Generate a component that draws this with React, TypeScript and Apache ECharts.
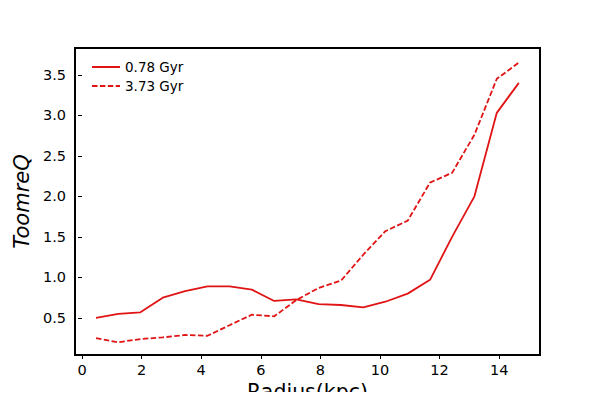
import React, { useEffect, useRef } from "react";
import * as echarts from "echarts";

const radius = [0.47, 1.22, 1.96, 2.71, 3.46, 4.21, 4.95, 5.7, 6.45, 7.19, 7.94, 8.69, 9.44, 10.18, 10.93, 11.68, 12.42, 13.17, 13.92, 14.66];
const q078 = [0.5, 0.55, 0.57, 0.75, 0.83, 0.89, 0.89, 0.85, 0.71, 0.73, 0.67, 0.66, 0.63, 0.7, 0.8, 0.97, 1.5, 2.0, 3.03, 3.4];
const q373 = [0.25, 0.2, 0.24, 0.26, 0.29, 0.28, 0.41, 0.54, 0.52, 0.72, 0.87, 0.96, 1.28, 1.57, 1.7, 2.17, 2.29, 2.76, 3.45, 3.65];
const xTicks = [0, 2, 4, 6, 8, 10, 12, 14];
const yTicks = [0.5, 1.0, 1.5, 2.0, 2.5, 3.0, 3.5];
const seriesNames = ["0.78 Gyr", "3.73 Gyr"];

const RED = "#e01414";
const FONT = "DejaVu Sans";

export default function App() {
  const ref = useRef<HTMLDivElement>(null);
  useEffect(() => {
    if (!ref.current) return;
    const chart = echarts.init(ref.current, null, { renderer: "svg" });
    const toPairs = (ys: number[]) => radius.map((x, i) => [x, ys[i]]);
    chart.setOption({
      animation: false,
      backgroundColor: "#ffffff",
      textStyle: { fontFamily: FONT },
      grid: {
        left: 75,
        right: 60,
        top: 48,
        bottom: 45,
        outerBoundsMode: "none",
        containLabel: false,
        show: true,
        borderColor: "#000",
        borderWidth: 2,
        backgroundColor: "transparent",
      },
      legend: {
        orient: "vertical",
        left: 86,
        top: 55,
        itemWidth: 28,
        itemHeight: 2,
        itemGap: 5,
        itemStyle: { opacity: 0 },
        textStyle: { fontFamily: FONT, fontSize: 13.5, color: "#000" },
        data: seriesNames,
      },
      xAxis: {
        type: "value",
        min: -0.235,
        max: 15.37,
        name: "Radius(kpc)",
        nameLocation: "middle",
        nameGap: 26,
        nameTextStyle: { fontFamily: FONT, fontSize: 20.5, color: "#000" },
        axisLine: { show: false },
        splitLine: { show: false },
        axisTick: {
          show: true,
          inside: false,
          length: 4,
          lineStyle: { color: "#000", width: 1 },
          customValues: xTicks,
        },
        axisLabel: {
          customValues: xTicks,
          fontFamily: FONT,
          fontSize: 14.5,
          color: "#000",
          margin: 7,
        },
      },
      yAxis: {
        type: "value",
        min: 0.043,
        max: 3.83,
        name: "ToomreQ",
        nameLocation: "middle",
        nameGap: 42,
        nameRotate: 90,
        nameTextStyle: { fontFamily: FONT, fontSize: 21, fontStyle: "italic", color: "#000" },
        axisLine: { show: false },
        splitLine: { show: false },
        axisTick: {
          show: true,
          inside: false,
          length: 4,
          lineStyle: { color: "#000", width: 1 },
          customValues: yTicks,
        },
        axisLabel: {
          customValues: yTicks,
          fontFamily: FONT,
          fontSize: 14.5,
          color: "#000",
          margin: 9,
          formatter: (v: number) => v.toFixed(1),
        },
      },
      series: [
        {
          name: seriesNames[0],
          type: "line",
          data: toPairs(q078),
          symbol: "none",
          lineStyle: { color: RED, width: 1.8, type: "solid" },
          itemStyle: { color: RED },
        },
        {
          name: seriesNames[1],
          type: "line",
          data: toPairs(q373),
          symbol: "none",
          lineStyle: { color: RED, width: 1.8, type: [5.5, 2.4] },
          itemStyle: { color: RED },
        },
      ],
    });
    return () => chart.dispose();
  }, []);
  return <div ref={ref} style={{ width: 600, height: 400, margin: -8 }} />;
}
